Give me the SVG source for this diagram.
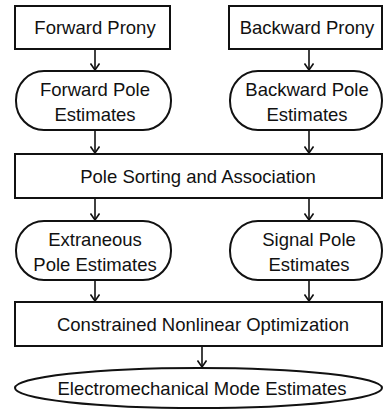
<svg xmlns="http://www.w3.org/2000/svg" width="383" height="410" viewBox="0 0 383 410">
  <style>
    .box { fill: #ffffff; stroke: #111111; stroke-width: 2; }
    .lbl { font-family: "Liberation Sans", Arial, sans-serif; font-size: 18.5px; fill: #111111; text-anchor: middle; }
    .conn { stroke: #111111; stroke-width: 1.6; fill: none; marker-end: url(#arr); }
  </style>
  <defs>
    <marker id="arr" markerUnits="userSpaceOnUse" viewBox="0 0 8 10" markerWidth="8" markerHeight="10" refX="7" refY="5" orient="auto">
      <path d="M0.5,0.5 L7,5 L0.5,9.5" fill="none" stroke="#111111" stroke-width="1.6"/>
    </marker>
  </defs>
  <rect width="383" height="410" fill="#ffffff"/>

  <g id="connectors">
    <line class="conn" x1="95" y1="49" x2="95" y2="70"/>
    <line class="conn" x1="309" y1="49" x2="309" y2="70"/>
    <line class="conn" x1="95" y1="130" x2="95" y2="153"/>
    <line class="conn" x1="309" y1="130" x2="309" y2="153"/>
    <line class="conn" x1="95" y1="198" x2="95" y2="220"/>
    <line class="conn" x1="309" y1="198" x2="309" y2="220"/>
    <line class="conn" x1="95" y1="280" x2="95" y2="301"/>
    <line class="conn" x1="309" y1="280" x2="309" y2="301"/>
    <line class="conn" x1="202" y1="346" x2="202" y2="367"/>
  </g>

  <g id="forward-prony">
    <rect class="box" x="15" y="6" width="155" height="43"/>
    <text class="lbl" x="95" y="34">Forward Prony</text>
  </g>
  <g id="backward-prony">
    <rect class="box" x="229" y="6" width="153" height="43"/>
    <text class="lbl" x="307" y="34">Backward Prony</text>
  </g>
  <g id="forward-pole-estimates">
    <rect class="box" x="16" y="71" width="155" height="59" rx="28" ry="29"/>
    <text class="lbl" x="95" y="96">Forward Pole</text>
    <text class="lbl" x="95" y="121">Estimates</text>
  </g>
  <g id="backward-pole-estimates">
    <rect class="box" x="230" y="71" width="152" height="59" rx="28" ry="29"/>
    <text class="lbl" x="307" y="96">Backward Pole</text>
    <text class="lbl" x="307" y="121">Estimates</text>
  </g>
  <g id="pole-sorting">
    <rect class="box" x="15" y="154" width="367" height="44"/>
    <text class="lbl" x="198" y="183">Pole Sorting and Association</text>
  </g>
  <g id="extraneous-pole-estimates">
    <rect class="box" x="16" y="221" width="155" height="59" rx="28" ry="29"/>
    <text class="lbl" x="95" y="246">Extraneous</text>
    <text class="lbl" x="95" y="271">Pole Estimates</text>
  </g>
  <g id="signal-pole-estimates">
    <rect class="box" x="230" y="221" width="152" height="59" rx="28" ry="29"/>
    <text class="lbl" x="309" y="246">Signal Pole</text>
    <text class="lbl" x="309" y="271">Estimates</text>
  </g>
  <g id="constrained-optimization">
    <rect class="box" x="15" y="302" width="367" height="44"/>
    <text class="lbl" x="203" y="331">Constrained Nonlinear Optimization</text>
  </g>
  <g id="mode-estimates">
    <ellipse class="box" cx="198.5" cy="388" rx="183.5" ry="20"/>
    <text class="lbl" x="202" y="395">Electromechanical Mode Estimates</text>
  </g>
</svg>
